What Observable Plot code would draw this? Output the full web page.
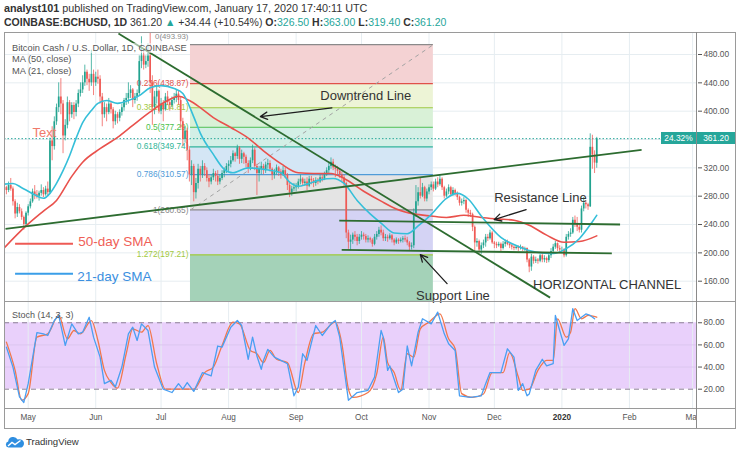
<!DOCTYPE html>
<html><head><meta charset="utf-8">
<script src="https://cdn.jsdelivr.net/npm/d3@7"></script>
<script src="https://cdn.jsdelivr.net/npm/@observablehq/plot@0.6"></script>
<style>
body{margin:0;background:#fff;font-family:"Liberation Sans",Arial,sans-serif;}
#wrap{position:relative;width:740px;height:456px;overflow:hidden;background:#fff}
.abs{position:absolute;white-space:nowrap}
.hdr{font-size:10.5px;line-height:13px;color:#333}
.t{color:#26a69a}
.leg{font-size:9.3px;line-height:12px;color:#555}
svg{display:block}
</style></head><body><div id="wrap">
<div class="abs hdr" style="left:4px;top:1.5px;font-size:10.8px"><b>analyst101</b> published on TradingView.com, January 17, 2020 17:40:11 UTC</div>
<div class="abs hdr" id="hdr2" style="left:4px;top:16px;line-height:12.5px"></div>
<div id="main" class="abs" style="left:4px;top:32px"></div>
<div id="stoch" class="abs" style="left:4px;top:302px"></div>
<div class="abs leg" style="left:12px;top:42.5px;line-height:10px;background:rgba(255,255,255,0.55)">Bitcoin Cash / U.S. Dollar, 1D, COINBASE</div>
<div class="abs leg" style="left:12px;top:53px">MA (50, close)</div>
<div class="abs leg" style="left:12px;top:64.5px">MA (21, close)</div>
<div class="abs leg" style="left:12px;top:309px;font-size:9px">Stoch (14, 3, 3)</div>
<div class="abs" style="left:697px;top:409px;width:38px;height:19px;background:#fff"></div>
<div class="abs" style="left:4px;top:32px;width:732px;height:397px;box-sizing:border-box;border:1px solid #9a9a9a"></div>
<div class="abs" style="left:4px;top:301px;width:731px;height:1px;background:#9a9a9a"></div>
<div class="abs" style="left:4px;top:408px;width:731px;height:1px;background:#9a9a9a"></div>
<div class="abs" style="left:696px;top:32px;width:1px;height:396px;background:#8a8a8a"></div>
<div class="abs" id="pl1" style="left:661px;top:132px;width:35px;height:12px;background:#26a69a;color:#fff;font-size:8.4px;line-height:12px;text-align:center"></div>
<div class="abs" id="pl2" style="left:697px;top:132px;width:38px;height:12px;background:#26a69a;color:#fff;font-size:8.4px;line-height:12px;text-align:center"></div>
<svg class="abs" style="left:5px;top:436px" width="20" height="12" viewBox="0 0 20 12"><path d="M3.5 11.5 A3 3 0 0 1 3.2 5.6 A5 5 0 0 1 12.6 3.6 A4 4 0 0 1 16.5 11.5 Z" fill="#2f8ee0"/><path d="M3 10 L7 6.5 L10 8.6 L15.5 4.5" stroke="#fff" stroke-width="1.4" fill="none"/></svg>
<div class="abs" style="left:26px;top:436px;font-size:9.6px;line-height:12px;color:#333">TradingView</div>
</div>
<script>
// ---------- data ----------
const startDate = "2019-04-20";          // first daily candle
const firstOpen = 290;                   // open of first candle
const lastOpen = 326.50;                 // open of last candle (header O:)
const close = [
 292,288,295,290,272,255,264,258,250,240,256,
 265,272,286,282,280,284,288,282,290,285,358,350,385,405,420,410,365,380,412,395,408,398,410,425,430,440,455,445,440,452,440,
 448,445,420,395,405,398,410,402,385,395,390,398,405,415,418,425,430,415,420,425,470,478,465,470,478,440,405,420,428,400,
 410,402,420,412,408,415,418,424,415,385,360,372,345,310,322,285,298,318,310,322,316,305,300,306,312,308,300,305,312,316,322,
 325,330,340,336,348,332,340,335,326,320,330,345,322,312,318,322,316,324,326,318,310,314,320,314,310,316,310,295,285,290,292,
 294,300,304,298,300,294,304,302,298,302,300,306,304,310,316,322,328,320,318,315,310,306,298,228,215,218,225,222,216,222,
 225,223,218,220,218,212,222,226,232,228,220,222,220,224,218,214,218,216,218,220,218,214,208,210,255,272,285,280,292,276,286,
 292,296,290,300,296,304,292,280,286,292,282,288,284,278,270,272,274,260,256,254,236,214,216,204,210,214,222,220,228,214,
 212,210,212,206,212,215,212,210,208,206,208,206,208,205,206,190,180,194,188,190,188,196,190,192,189,196,202,208,213,206,204,
 204,196,222,226,228,246,240,236,232,262,270,268,265,349,338,326.76,361.20];
const high = [
 296,294,300,305,293,275,270,268,262,252,258,
 268,276,290,295,288,287,296,292,294,300,362,378,392,410,440,446,415,388,420,415,412,412,415,430,440,450,465,458,452,486,458,
 455,458,450,425,412,410,418,414,405,400,398,402,410,418,425,440,436,432,425,430,478,505,485,478,495,515,450,428,436,430,
 418,415,425,428,416,420,425,430,428,420,390,378,376,350,330,325,305,325,322,330,326,320,310,310,318,315,316,310,316,320,326,
 330,336,344,342,352,350,345,342,338,330,334,352,348,325,322,328,325,328,332,330,320,318,324,322,318,322,320,312,298,294,298,
 298,304,310,306,304,306,308,308,305,306,305,310,310,314,320,328,334,332,324,322,318,314,310,300,232,225,228,230,226,226,
 230,228,226,224,222,220,226,230,236,238,232,226,225,227,226,220,221,220,221,223,224,222,216,214,262,295,292,305,298,294,290,
 296,300,300,304,306,309,306,294,290,296,294,292,290,286,280,276,278,276,262,260,256,238,220,218,214,218,226,226,232,230,
 216,215,215,214,216,218,218,214,212,210,210,210,211,209,208,207,192,198,196,194,192,198,200,196,194,200,206,212,216,214,210,
 208,206,226,230,234,250,252,250,240,266,278,274,270,368,366,344,363];
const low = [
 286,282,285,287,266,248,250,255,246,232,236,
 252,262,270,275,276,273,280,278,280,280,283,330,345,380,398,395,340,358,375,385,390,388,392,405,420,425,435,436,428,435,422,
 435,438,410,378,390,385,395,396,375,380,382,385,393,400,408,410,418,405,410,414,422,460,458,460,462,425,380,395,410,396,
 395,385,400,408,400,405,410,412,408,375,350,355,330,300,295,272,276,290,300,305,308,300,292,296,302,300,295,296,302,306,312,
 315,320,328,328,332,325,326,325,320,312,316,326,316,281,300,310,310,312,318,314,302,304,310,308,304,308,305,288,278,280,286,
 286,290,296,294,294,288,292,296,292,294,296,298,300,302,308,312,318,316,306,310,305,300,292,220,205,203,212,216,210,212,
 218,218,214,214,214,208,210,218,222,224,216,216,215,218,214,210,212,212,214,214,215,210,203,204,206,250,266,276,278,272,272,
 282,288,286,288,292,294,288,276,278,282,280,280,280,274,266,266,268,256,250,250,230,202,208,200,198,206,208,216,218,212,
 206,206,208,202,204,208,210,206,204,203,204,202,204,202,202,186,172,174,184,185,184,186,186,186,185,186,192,200,205,202,200,
 200,193,194,218,222,226,236,230,228,228,258,262,260,264,318,312,319.40];

// moving averages (day offset from startDate, value)
const ma50Days = [0,10,18,24,31,36,44,52,59,67,75,80,85,90,96,104,112,119,127,135,142,150,156,165,173,180,188,196,203,211,219,226,234,241,249,257,264,272];
const ma50Vals = [207,238,259,274,308,328,347,363,380,399,415,421,415,405,391,377,362,344,326,313,312,312,305,287,273,262,255,252,250,253,250,248,246,239,225,215,216,224];
const ma21Days = [0,4,8,11,14,18,21,24,27,30,33,36,40,43,47,52,57,62,67,72,78,82,87,90,96,101,105,112,119,127,131,135,139,145,151,156,162,168,173,179,185,190,196,203,208,213,219,228,236,244,252,258,264,270,272];
const ma21Vals = [297,298,292,287,282,277,284,298,316,337,362,384,401,411,415,411,415,422,433,436,432,425,392,369,339,318,313,320,318,313,300,294,297,303,305,298,274,255,242,228,227,238,254,277,284,276,252,222,209,201,199,206,220,244,253];

// stochastic
const kDays = [1,4,7,9,11,15,18,20,23,25,28,31,34,36,39,41,44,46,49,51,54,57,59,61,63,66,69,73,77,80,82,84,87,91,95,98,100,104,107,109,112,114,116,118,119,121,124,127,130,133,135,137,139,143,146,150,152,154,158,162,167,170,173,174,176,177,181,183,185,187,190,192,196,199,202,204,207,209,214,219,221,223,228,231,234,236,238,240,241,244,247,249,252,253,255,257,259,261,263,267,269,271];
const kVals = [58,40,13,8,25,71,70,68.5,82,86.6,59.5,79,70,71.5,85,67,49,25,28,22,40,70,76,64,79,73,40,20,17,25,20,26,18,35,32,59,58,76,82,77.5,47,67,50,38,46,56,49,46,43,14,22,52,46,77.5,68.5,79,82,67,10,17,19,31,73,67,37,41,17,20,59,41,71.5,83.6,79,89.6,70,61,55,14,12.6,14,25,35,35,56.5,49,19,25,14,15.6,37,47,41,43,86.6,73,59.5,65.5,92.7,82,88,86.6,83.6];
const dDays = [1,5,8,11,15,20,25,29,32,35,40,43,46,49,52,56,59,63,66,70,74,80,87,92,96,100,105,108,113,116,119,122,125,130,135,138,142,146,152,155,158,160,167,171,174,176,179,182,185,188,191,195,200,204,207,210,215,220,224,229,232,236,238,241,245,249,252,254,258,260,262,265,268,272];
const dVals = [62.5,37,10,16,67,70,86.6,65.5,73,70,82,64,37,26,21,52,74.5,71.5,77.5,43,20,20,20,35,40,59.5,80.5,79,55,52,44,55,47,44,17,44,70,71.5,80.5,61,20,12.6,17,34,67,44,35,19,52,49,74.5,80.5,88,65.5,56.5,16,12.6,15.6,35,35,53,31,19,20,37,46,46,83.6,67,71.5,92.7,83.6,86.6,85];

// Fibonacci retracement
const fibRatios = [0, 0.236, 0.382, 0.5, 0.618, 0.786, 1, 1.272, 1.618];
const fibPrices = [493.93, 438.87, 404.81, 377.29, 349.74, 310.57, 260.65, 197.21, 116.48];
const fibRange = ["2019-07-14T12:00Z", "2019-11-03T00:00Z"];

// drawn lines (x1, y1, x2, y2)
const trendStart = ["2019-06-11T10:00Z", "2019-04-20T14:00Z", "2019-09-20T19:00Z", "2019-09-21T22:00Z"];
const trendStartPrice = [509.7, 233.8, 245.6, 204.2];
const trendEnd = ["2019-12-26T14:00Z", "2020-02-06T14:00Z", "2020-01-27T17:00Z", "2020-01-23T22:00Z"];
const trendEndPrice = [136.8, 345.4, 240.0, 199.4];
const arrowFrom = ["2019-09-17T10:00Z", "2019-12-15T14:00Z", "2019-11-09T07:00Z"];
const arrowFromPrice = [404.7, 261.1, 156.6];
const arrowTo = ["2019-08-15T14:00Z", "2019-11-30T22:00Z", "2019-10-28T00:00Z"];
const arrowToPrice = [392.4, 246.9, 197.5];

// annotations
const noteLabels = ["Downtrend Line", "Resistance Line", "Support Line", "HORIZONTAL CHANNEL"];
const noteDates = ["2019-09-12T02:00Z", "2019-11-30T22:00Z", "2019-10-26T02:00Z", "2019-12-18T19:00Z"];
const notePrices = [422.1, 278, 139.7, 155.3];
const smaLabels = ["50-day SMA", "21-day SMA"];
const smaLabelDate = ["2019-05-24T00:00Z", "2019-05-23T12:00Z"];
const smaLabelPrice = [216, 166.6];
const smaLineFrom = "2019-04-25T05:00Z", smaLineTo = "2019-05-21T19:00Z";
const smaLinePrice = [212.7, 170.4];
const textNote = {label: "Text", date: "2019-05-03T00:00Z", price: 369.8};

// axes
const priceTicks = [160, 200, 240, 280, 320, 360, 400, 440, 480];
const stochTicks = [20, 40, 60, 80];
const stochBand = [20, 80];
const monthTicks = ["2019-05-01","2019-06-01","2019-07-01","2019-08-01","2019-09-01","2019-10-01","2019-11-01","2019-12-01","2020-01-01","2020-02-01","2020-03-01"];
const monthLabels = ["May","Jun","Jul","Aug","Sep","Oct","Nov","Dec","2020","Feb","Mar"];
const lastClose = 361.20, change = 34.44, changePct = 10.54, changeSince = 24.32;

// ---------- styles ----------
const FONT = '"Liberation Sans", Arial, sans-serif';
const UP = "#22a38f", DOWN = "#ef5a55";
const MA50C = "#e9514c", MA21C = "#35bfd9";
const GRID = "#e6edf1";
const TREND = "#2d6c30";
const fibLineColors = ["#8a8a8a","#e0504a","#a2c940","#4cbf4c","#2fb598","#4f9bd8","#8a8a8a","#a2c940"];
const fibFills = ["#f4d2d3","#edf4d6","#d9f1d7","#d3efe6","#d4e6f5","#e4e4e4","#d4d3f4","#a4d2b8"];

// ---------- build ----------
const start = new Date(startDate + "T00:00:00Z");
const D = d => new Date(d);
const xDomain = [D("2019-04-20T03:00Z"), D("2020-03-03T06:00Z")];

const candles = close.map((c, i) => ({
  date: d3.utcDay.offset(start, i),
  open: i === 0 ? firstOpen : (i === close.length - 1 ? lastOpen : close[i - 1]),
  close: c, high: high[i], low: low[i]
}));
const ma50 = ma50Days.map((d, i) => ({date: d3.utcDay.offset(start, d), v: ma50Vals[i]}));
const ma21 = ma21Days.map((d, i) => ({date: d3.utcDay.offset(start, d), v: ma21Vals[i]}));
const kLine = kDays.map((d, i) => ({date: d3.utcDay.offset(start, d), v: kVals[i]}));
const dLine = dDays.map((d, i) => ({date: d3.utcDay.offset(start, d), v: dVals[i]}));

const fx1 = D(fibRange[0]), fx2 = D(fibRange[1]);
const fibZones = fibPrices.slice(0, -1).map((p, i) => ({x1: fx1, x2: fx2, top: p, bottom: fibPrices[i + 1], fill: fibFills[i]}));
const fibLevels = fibPrices.slice(0, -1).map((p, i) => ({x1: fx1, x2: fx2, price: p, color: fibLineColors[i], label: `${fibRatios[i]}(${p.toFixed(2)})`}));
const fibDiag = [{x1: fx1, y1: fibPrices[6], x2: fx2, y2: fibPrices[0]}];
const trends = trendStart.map((s, i) => ({x1: D(s), y1: trendStartPrice[i], x2: D(trendEnd[i]), y2: trendEndPrice[i]}));
const arrows = arrowFrom.map((s, i) => ({x1: D(s), y1: arrowFromPrice[i], x2: D(arrowTo[i]), y2: arrowToPrice[i]}));
const notes = noteLabels.map((t, i) => ({t, x: D(noteDates[i]), y: notePrices[i]}));
const smaNotes = smaLabels.map((t, i) => ({t, x: D(smaLabelDate[i]), y: smaLabelPrice[i], color: i === 0 ? "#ef5f57" : "#3b8fe0"}));
const smaLines = smaLinePrice.map((p, i) => ({x1: D(smaLineFrom), x2: D(smaLineTo), y: p, color: i === 0 ? "#ee5a55" : "#3a9ee8"}));
const months = monthTicks.map(D);

const candleColor = d => d.close >= d.open ? UP : DOWN;

const main = Plot.plot({
  width: 731, height: 270,
  marginLeft: 0, marginRight: 38, marginTop: 0, marginBottom: 0,
  style: {fontFamily: FONT, fontSize: "8.4px", color: "#555", background: "transparent", overflow: "visible"},
  x: {type: "utc", domain: xDomain, axis: null},
  y: {domain: [129.93, 511.06]},
  color: {type: "identity"},
  marks: [
    Plot.gridX(months, {stroke: GRID, strokeOpacity: 1}),
    Plot.gridY(priceTicks, {stroke: GRID, strokeOpacity: 1}),
    Plot.rect(fibZones, {x1: "x1", x2: "x2", y1: "top", y2: "bottom", fill: "fill", clip: true}),
    Plot.ruleY(fibLevels, {x1: "x1", x2: "x2", y: "price", stroke: "color", strokeWidth: 1.2}),
    Plot.link(fibDiag, {x1: "x1", y1: "y1", x2: "x2", y2: "y2", stroke: "#a3a3a3", strokeDasharray: "4,4", strokeWidth: 1}),
    Plot.text(fibLevels.slice(1), {x: "x1", y: "price", text: "label", fill: "color", textAnchor: "end", dx: -2, fontSize: 8.3, fontFamily: FONT}),
    Plot.text(fibLevels.slice(0, 1), {x: "x1", y: "price", text: "label", fill: "color", textAnchor: "end", lineAnchor: "bottom", dx: -2, dy: -5.5, fontSize: 7.8, fontFamily: FONT}),
    Plot.ruleY([lastClose], {stroke: "#26a69a", strokeDasharray: "1.5,2", strokeWidth: 1}),
    Plot.ruleX(candles, {x: "date", y1: "low", y2: "high", stroke: candleColor, strokeWidth: 0.9, strokeOpacity: 0.85, clip: true}),
    Plot.ruleX(candles, {x: "date", y1: "open", y2: "close", stroke: candleColor, strokeWidth: 1.7, clip: true}),
    Plot.line(ma50, {x: "date", y: "v", stroke: MA50C, strokeWidth: 1.6, curve: "monotone-x", clip: true}),
    Plot.line(ma21, {x: "date", y: "v", stroke: MA21C, strokeWidth: 1.6, curve: "monotone-x", clip: true}),
    Plot.link(trends, {x1: "x1", y1: "y1", x2: "x2", y2: "y2", stroke: TREND, strokeWidth: 1.8, clip: true}),
    Plot.arrow(arrows, {x1: "x1", y1: "y1", x2: "x2", y2: "y2", bend: 0, stroke: "#1e1e1e", strokeWidth: 1.3, headLength: 9, headAngle: 55}),
    Plot.ruleY(smaLines, {x1: "x1", x2: "x2", y: "y", stroke: "color", strokeWidth: 2}),
    Plot.text(smaNotes, {x: "x", y: "y", text: "t", fill: "color", textAnchor: "start", fontSize: 13.5, fontFamily: FONT}),
    Plot.text([textNote], {x: d => D(d.date), y: "price", text: "label", fill: "#f07a6b", textAnchor: "start", fontSize: 13, fontFamily: FONT}),
    Plot.text(notes, {x: "x", y: "y", text: "t", fill: "#333", textAnchor: "start", fontSize: 13, fontFamily: FONT}),
    Plot.axisY(priceTicks, {anchor: "right", tickSize: 4, tickPadding: 2, tickFormat: d3.format(".2f"), label: null, fontSize: 8.4})
  ]
});
document.getElementById("main").appendChild(main);

const yearIdx = monthLabels.map((l, i) => /^\d{4}$/.test(l) ? i : -1).filter(i => i >= 0);
const stoch = Plot.plot({
  width: 731, height: 126,
  marginLeft: 0, marginRight: 38, marginTop: 0, marginBottom: 20,
  style: {fontFamily: FONT, fontSize: "8.4px", color: "#555", background: "transparent", overflow: "visible"},
  x: {type: "utc", domain: xDomain, axis: null},
  y: {domain: [2.56, 98.3]},
  marks: [
    Plot.rect([stochBand], {y1: d => d[0], y2: d => d[1], fill: "#e9d0fb"}),
    Plot.gridX(months, {stroke: GRID, strokeOpacity: 1}),
    Plot.gridY([40, 60], {stroke: "#dcc6ef", strokeOpacity: 1}),
    Plot.ruleY(stochBand, {stroke: "#8d8196", strokeDasharray: "5,4", strokeWidth: 1}),
    Plot.line(dLine, {x: "date", y: "v", stroke: "#f2774c", strokeWidth: 1.3, curve: "monotone-x", clip: true}),
    Plot.line(kLine, {x: "date", y: "v", stroke: "#4a9ff2", strokeWidth: 1.3, clip: true}),
    Plot.axisY(stochTicks, {anchor: "right", tickSize: 4, tickPadding: 2, tickFormat: d3.format(".2f"), label: null, fontSize: 8.4}),
    Plot.text(months.filter((m, i) => !yearIdx.includes(i)), {x: d => d, text: d => monthLabels[months.indexOf(d)], frameAnchor: "bottom", dy: 11, fontSize: 8.2, fill: "#555", fontFamily: FONT}),
    Plot.text(months.filter((m, i) => yearIdx.includes(i)), {x: d => d, text: d => monthLabels[months.indexOf(d)], frameAnchor: "bottom", dy: 11, fontSize: 8.2, fill: "#333", fontWeight: "bold", fontFamily: FONT})
  ]
});
document.getElementById("stoch").appendChild(stoch);

document.getElementById("hdr2").innerHTML =
  `<b>COINBASE:BCHUSD, 1D</b> ${lastClose.toFixed(2)} <span class="t">▲</span> +${change.toFixed(2)} (+${changePct.toFixed(2)}%) ` +
  `<b>O:</b><span class="t">${lastOpen.toFixed(2)}</span> <b>H:</b><span class="t">${high[high.length-1].toFixed(2)}</span> ` +
  `<b>L:</b><span class="t">${low[low.length-1].toFixed(2)}</span> <b>C:</b><span class="t">${lastClose.toFixed(2)}</span>`;
document.getElementById("pl1").textContent = changeSince.toFixed(2) + "%";
document.getElementById("pl2").textContent = lastClose.toFixed(2);
</script></body></html>
